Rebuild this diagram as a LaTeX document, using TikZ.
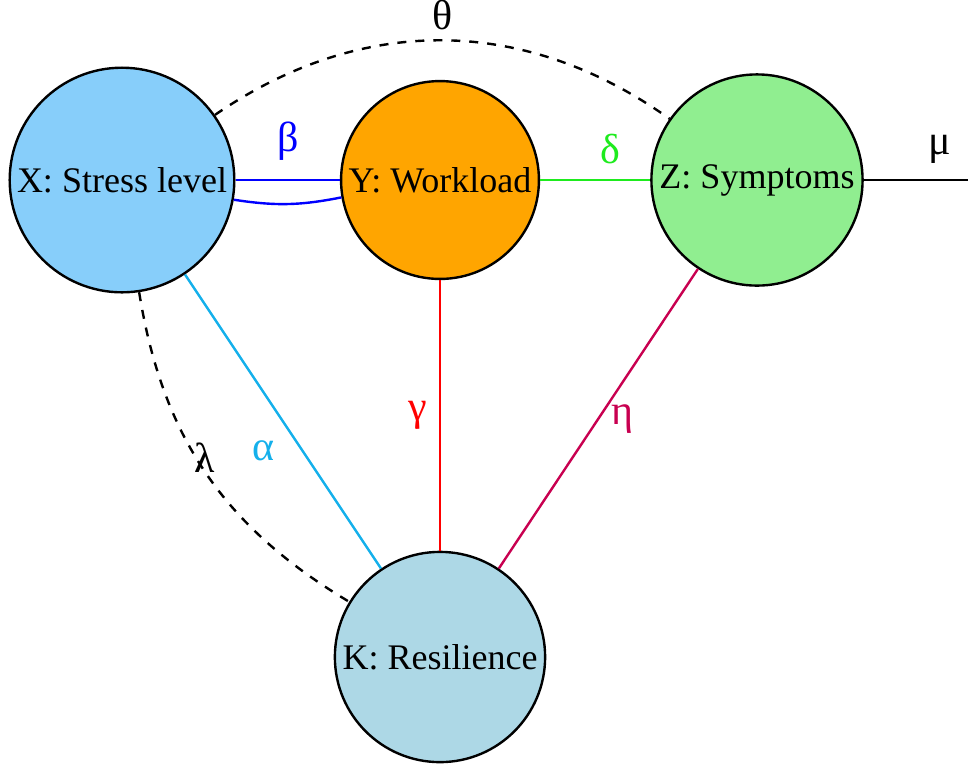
\documentclass[tikz,border=0pt]{standalone}
\usepackage{fontspec}
\setmainfont{Liberation Serif}
\usepackage{xcolor}
\usetikzlibrary{arrows.meta}

\definecolor{stresscol}{RGB}{135,206,250}
\definecolor{loadcol}{RGB}{255,165,0}
\definecolor{symcol}{RGB}{144,238,144}
\definecolor{rescol}{RGB}{173,216,230}
\definecolor{alphacol}{RGB}{20,176,235}
\definecolor{deltacol}{RGB}{30,235,30}
\definecolor{etacol}{RGB}{200,0,80}

\begin{document}
\begin{tikzpicture}[x=0.3333pt, y=0.3333pt, font=\fontsize{12}{14}\selectfont]
  \tikzstyle{factor}=[circle, draw, thick, inner sep=2pt]
  \tikzstyle{link}=[thick]
  \tikzstyle{greek}=[font=\fontsize{14}{16}\selectfont, inner sep=1pt]
  \useasboundingbox (0,0) rectangle (968,-768);

  \node[factor, fill=stresscol] (X) at (122,-180) {X: Stress level};
  \node[factor, fill=loadcol] (Y) at (440,-180) {Y: Workload};
  \node[factor, fill=symcol] (Z) at (757,-180) {Z: Symptoms};
  \node[factor, fill=rescol] (K) at (440,-657) {K: Resilience};
  \coordinate (out) at (1016,-180);

  \draw[link, blue] (X) -- node[greek, above=5pt] {β} (Y);
  \draw[link, blue] (X.-10) to[bend right=10] (Y.190);
  \draw[link, deltacol] (Y) -- node[greek, above=4pt, pos=0.64] {δ} (Z);
  \draw[link] (Z) -- node[greek, above=4pt] {μ} (out);
  \draw[link, dashed] (X) to[bend left=35] node[greek, above=2pt] {θ} (Z);
  \draw[link, alphacol] (X) -- node[greek, left=8pt, pos=0.6] {α} (K);
  \draw[link, red] (Y) -- node[greek, left=3pt] {γ} (K);
  \draw[link, etacol] (Z) -- node[greek, right=3pt] {η} (K);
  \draw[link, dashed] (X) to[bend right=25] node[greek, pos=0.45, xshift=3pt] {λ} (K);
\end{tikzpicture}
\end{document}
